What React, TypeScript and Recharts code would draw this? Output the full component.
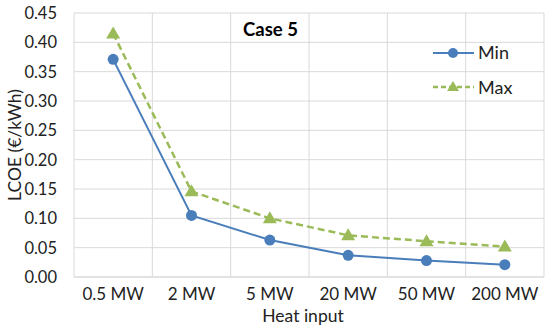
import React from 'react';
import { LineChart, Line, XAxis, YAxis, CartesianGrid } from 'recharts';

const categories = ['0.5 MW', '2 MW', '5 MW', '20 MW', '50 MW', '200 MW'];
const minValues = [0.371, 0.105, 0.063, 0.037, 0.028, 0.021];
const maxValues = [0.415, 0.146, 0.100, 0.071, 0.061, 0.052];
const yTicks = [0, 0.05, 0.1, 0.15, 0.2, 0.25, 0.3, 0.35, 0.4, 0.45];

const data = categories.map((name, i) => ({ name, min: minValues[i], max: maxValues[i] }));

const FONT = 'Lato, "Open Sans", sans-serif';
const BLUE = '#4a7ebb';
const GREEN = '#9bbb59';

const Triangle = (props: any) => {
  const { cx, cy } = props;
  if (cx == null || cy == null) return null;
  return <polygon points={`${cx},${cy - 7} ${cx - 7},${cy + 5} ${cx + 7},${cy + 5}`} fill={GREEN} />;
};

const App: React.FC = () => {
  const W = 550;
  const H = 332;
  return (
    <div style={{ position: 'absolute', left: 0, top: 0, width: W, height: H, background: '#fff', fontFamily: FONT }}>
      <LineChart width={W} height={H} data={data} margin={{ top: 13, right: 6, bottom: 0, left: 18 }}>
        <CartesianGrid
          stroke="#d9d9d9"
          strokeWidth={1}
          verticalCoordinatesGenerator={({ offset }: any) =>
            Array.from({ length: categories.length + 1 }, (_, i) => offset.left + (offset.width * i) / categories.length)
          }
        />
        <XAxis
          dataKey="name"
          scale="band"
          height={55}
          tickLine={false}
          axisLine={{ stroke: '#d9d9d9' }}
          tick={{ fill: '#222', fontSize: 17, fontFamily: FONT }}
          tickMargin={5}
          interval={0}
        />
        <YAxis
          width={56}
          domain={[0, 0.45]}
          ticks={yTicks}
          tickFormatter={(v: number) => v.toFixed(2)}
          tickLine={false}
          axisLine={false}
          tick={{ fill: '#222', fontSize: 16.5, fontFamily: FONT }}
          tickMargin={11}
        />
        <Line
          dataKey="min"
          stroke={BLUE}
          strokeWidth={2}
          dot={{ r: 5.5, fill: BLUE, stroke: BLUE, strokeWidth: 0 }}
          isAnimationActive={false}
        />
        <Line
          dataKey="max"
          stroke={GREEN}
          strokeWidth={2.5}
          strokeDasharray="7 4"
          dot={<Triangle />}
          isAnimationActive={false}
        />
      </LineChart>
      <div style={{ position: 'absolute', left: 243, top: 18, fontSize: 18.5, fontWeight: 700, color: '#000' }}>Case 5</div>
      <svg style={{ position: 'absolute', left: 430, top: 40 }} width={110} height={60}>
        <line x1={3} y1={13} x2={44} y2={13} stroke={BLUE} strokeWidth={2} />
        <circle cx={23} cy={13} r={5} fill={BLUE} />
        <text x={48} y={19} fontSize={18} fill="#222" fontFamily={FONT}>Min</text>
        <line x1={3} y1={47} x2={44} y2={47} stroke={GREEN} strokeWidth={2.5} strokeDasharray="5 3" />
        <polygon points="23,41 17,51 29,51" fill={GREEN} />
        <text x={48} y={54} fontSize={18} fill="#222" fontFamily={FONT}>Max</text>
      </svg>
      <div style={{ position: 'absolute', left: 0, width: 606, top: 305, textAlign: 'center', fontSize: 17.5, color: '#222' }}>
        Heat input
      </div>
      <div
        style={{
          position: 'absolute',
          left: 0,
          top: 0,
          transform: 'translate(15px, 145px) translate(-50%, -50%) rotate(-90deg)',
          whiteSpace: 'nowrap',
          fontSize: 17.5,
          lineHeight: '18px',
          color: '#222',
        }}
      >
        LCOE (€/kWh)
      </div>
    </div>
  );
};

export default App;
